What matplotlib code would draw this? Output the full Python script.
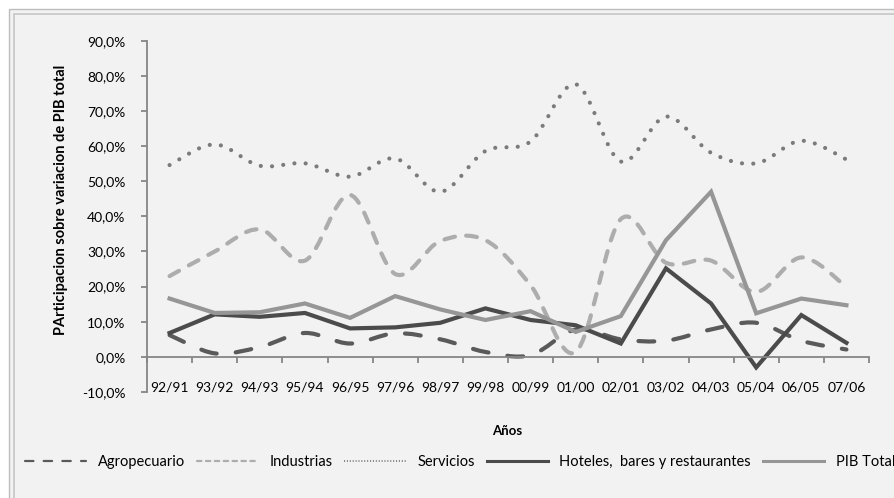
import matplotlib
matplotlib.use("Agg")
import matplotlib.pyplot as plt
import matplotlib.transforms as mtransforms
from matplotlib.lines import Line2D
from matplotlib.patches import PathPatch, Rectangle
from matplotlib.path import Path
import numpy as np

plt.rcParams['font.family'] = ['Lato', 'DejaVu Sans']

periodos = ['92/91', '93/92', '94/93', '95/94', '96/95', '97/96', '98/97', '99/98',
            '00/99', '01/00', '02/01', '03/02', '04/03', '05/04', '06/05', '07/06']

agropecuario = [6.2, 1.0, 2.8, 6.8, 3.8, 6.7, 5.0, 1.4, 0.5, 7.8, 5.0, 4.6, 7.8, 9.7, 4.6, 2.1]
industrias = [23.0, 30.0, 36.3, 27.4, 46.1, 23.6, 33.0, 33.2, 20.4, 1.4, 39.2, 26.8, 27.4, 18.5, 28.3, 19.9]
servicios = [54.6, 60.5, 54.4, 55.1, 51.3, 56.5, 47.0, 58.6, 61.3, 77.6, 55.6, 68.4, 58.1, 55.1, 61.5, 56.2]
hoteles = [6.8, 12.1, 11.4, 12.5, 8.1, 8.4, 9.7, 13.8, 10.5, 9.0, 3.8, 25.2, 15.2, -3.0, 11.9, 4.0]
pib_total = [16.6, 12.5, 12.7, 15.2, 11.1, 17.3, 13.5, 10.5, 13.0, 7.1, 11.6, 33.2, 47.0, 12.4, 16.6, 14.7]

W, H = 894, 498
fig = plt.figure(figsize=(W / 100, H / 100), dpi=100)
fig.patch.set_facecolor('white')

# double grey frame of the chart area (runs off the right and bottom edges)
fig.patches.append(Rectangle((8.5 / W, -0.1), 1.2, (H - 9.5) / H + 0.1,
                             transform=fig.transFigure, facecolor='#f2f2f2',
                             edgecolor='#bdbdbd', linewidth=1.0, zorder=-2))
fig.patches.append(Rectangle((13.5 / W, -0.1), 1.2, (H - 14.5) / H + 0.1,
                             transform=fig.transFigure, facecolor='none',
                             edgecolor='#c6c6c6', linewidth=1.2, zorder=-1))

ax = fig.add_axes([147 / W, 1 - 392 / H, 722 / W, 351.3 / H])
ax.set_facecolor('none')

x = np.arange(len(periodos))


def smooth_path(xs, ys):
    # cubic Bezier through the points, like a "smoothed line" series
    pts = np.column_stack([xs, ys]).astype(float)
    n = len(pts)
    verts = [pts[0]]
    codes = [Path.MOVETO]
    for i in range(n - 1):
        p0 = pts[i - 1] if i > 0 else pts[i]
        p1, p2 = pts[i], pts[i + 1]
        p3 = pts[i + 2] if i + 2 < n else pts[i + 1]
        verts += [p1 + (p2 - p0) / 6, p2 - (p3 - p1) / 6, p2]
        codes += [Path.CURVE4] * 3
    return Path(verts, codes)


lw = 3.0
smooth_series = [
    (agropecuario, '#5a5a5a', (0, (3.8, 4.6))),
    (industrias, '#adadad', (0, (2.6, 2.7))),
    (servicios, '#7b7b7b', (0, (0.01, 2.7))),
]
for vals, color, ls in smooth_series:
    patch = PathPatch(smooth_path(x, np.array(vals) / 100), facecolor='none',
                      edgecolor=color, linewidth=lw, linestyle=ls)
    patch.set_capstyle('round')
    patch.set_joinstyle('round')
    ax.add_patch(patch)

ax.plot(x, np.array(hoteles) / 100, color='#4b4b4b', lw=lw, solid_joinstyle='miter')
ax.plot(x, np.array(pib_total) / 100, color='#969696', lw=lw, solid_joinstyle='miter')

ax.set_xlim(-0.5, len(periodos) - 0.5)
ax.set_ylim(-0.10, 0.90)
ax.set_yticks(np.arange(-0.1, 0.91, 0.1))
ax.set_yticklabels([f'{v:.1f}%'.replace('.', ',') for v in np.arange(-10, 91, 10)])

axis_grey = '#868686'
for side in ['top', 'right']:
    ax.spines[side].set_visible(False)
ax.spines['left'].set_color(axis_grey)
ax.spines['left'].set_linewidth(1.3)
ax.spines['bottom'].set_color(axis_grey)
ax.spines['bottom'].set_linewidth(1.3)
ax.spines['bottom'].set_position(('data', 0))

ax.set_xticks(np.arange(-0.5, len(periodos), 1.0))
ax.tick_params(axis='x', direction='out', length=4, width=1.3, color=axis_grey,
               labelbottom=False)
ax.tick_params(axis='y', direction='out', length=4, width=1.3, color=axis_grey,
               pad=11.5, labelsize=10)

# category labels sit along the bottom of the plot, below the zero line
blend = mtransforms.blended_transform_factory(ax.transData, ax.transAxes)
for xi, lab in zip(x, periodos):
    ax.text(xi, 0.012, lab, transform=blend, ha='center', va='center', fontsize=10)

ax.set_ylabel('PArticipacion sobre variacion de PIB total', fontsize=10.5, fontweight='bold')
ax.yaxis.set_label_coords(-0.109, 0.547)
ax.set_xlabel('Años', fontsize=9.5, fontweight='bold')
ax.xaxis.set_label_coords(0.4986, -0.094)

handles = [
    Line2D([], [], color='#5a5a5a', lw=1.6, ls=(0, (3.8, 4.6)), dash_capstyle='round'),
    Line2D([], [], color='#adadad', lw=1.6, ls=(0, (2.0, 2.0)), dash_capstyle='round'),
    Line2D([], [], color='#7b7b7b', lw=1.3, ls=(0, (0.6, 1.0))),
    Line2D([], [], color='#4b4b4b', lw=2.2),
    Line2D([], [], color='#969696', lw=2.2),
]
labels = ['Agropecuario', 'Industrias', 'Servicios',
          'Hoteles,  bares y restaurantes', 'PIB Total']
fig.legend(handles, labels, loc='center left', bbox_to_anchor=(22 / W, 1 - 462 / H),
           ncol=5, frameon=False, fontsize=10.5, handlelength=4.2,
           handletextpad=0.8, columnspacing=0.8, borderaxespad=0, borderpad=0.2)

fig.savefig('out.png', dpi=100)
